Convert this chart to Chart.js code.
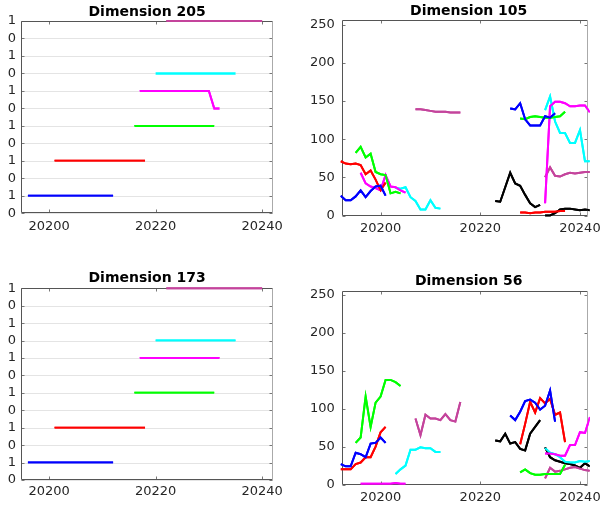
<!DOCTYPE html>
<html>
<head>
<meta charset="utf-8">
<script src="https://cdn.jsdelivr.net/npm/chart.js@4.4.1/dist/chart.umd.min.js"></script>
<style>
  html, body { margin: 0; padding: 0; background: #fff; }
  #page { position: relative; width: 606px; height: 505px; overflow: hidden; }
  .panel { position: absolute; }
  .panel canvas { position: absolute; left: 0; top: 0; }
  .ttl { position: absolute; text-align: center; font: bold 14px 'DejaVu Sans', sans-serif; color: #000; height: 16px; line-height: 16px; white-space: nowrap; }
</style>
</head>
<body>
<div id="page"></div>
<script>
// x ticks shared by all four panels
const xTicks = [20200, 20220, 20240];
const stepTicks = [0, 1, 2, 3, 4, 5, 6, 7, 8, 9, 10, 11];
const valTicks = [0, 50, 100, 150, 200, 250];

// Dimension 205 (stepped panel) [x, y]
const d205Blue    = [[20196, 1], [20212, 1]];
const d205Red     = [[20201, 3], [20218, 3]];
const d205Green   = [[20216, 5], [20231, 5]];
const d205Magenta = [[20217, 7], [20230, 7], [20231, 6], [20232, 6]];
const d205Cyan    = [[20220, 8], [20235, 8]];
const d205Orchid  = [[20222, 11], [20240, 11]];

// Dimension 173
const d173Blue    = [[20196, 1], [20212, 1]];
const d173Red     = [[20201, 3], [20218, 3]];
const d173Green   = [[20216, 5], [20231, 5]];
const d173Magenta = [[20217, 7], [20232, 7]];
const d173Cyan    = [[20220, 8], [20235, 8]];
const d173Orchid  = [[20222, 11], [20240, 11]];

// Dimension 105: first x of each run, then one value per step
const d105Start = { blue1: 20192, red1: 20192, green1: 20195, magenta1: 20196, cyan1: 20203, orchid1: 20207,
                    black1: 20223, blue2: 20226, green2: 20228, red2: 20228, magenta2: 20233, cyan2: 20233, orchid2: 20233, black2: 20233 };
const d105Blue1    = [26, 20, 20, 25, 33, 24, 32, 38, 39, 26];
const d105Red1     = [71, 68, 67, 68, 66, 54, 59, 47, 33, 43];
const d105Green1   = [82, 90, 76, 81, 57, 54, 53, 29, 31, 29];
const d105Magenta1 = [56, 42, 38, 36, 33, 53, 38, 37, 33, 30];
const d105Cyan1    = [36, 35, 37, 24, 19, 8, 8, 20, 10, 9];
const d105Orchid1  = [139, 139, 138, 137, 136, 136, 136, 135, 135, 135];
const d105Black1   = [19, 18, 37, 56, 42, 39, 27, 16, 11, 14];
const d105Blue2    = [140, 139, 147, 126, 118, 118, 118, 130, 128, 134];
const d105Green2   = [127, 126, 129, 130, 129, 128, 128, 129, 130, 136];
const d105Red2     = [4, 4, 3, 4, 4, 5, 5, 5, 6, 6];
const d105Magenta2 = [16, 143, 149, 149, 147, 143, 143, 144, 144, 135];
const d105Cyan2    = [138, 156, 123, 108, 108, 95, 95, 112, 71, 71];
const d105Orchid2  = [50, 63, 52, 51, 54, 56, 55, 56, 57, 57];
const d105Black2   = [0, 0, 3, 8, 9, 9, 8, 7, 8, 7];

// Dimension 56
const d56Start = { blue1: 20192, red1: 20192, green1: 20195, magenta1: 20196, cyan1: 20203, orchid1: 20207,
                   black1: 20223, blue2: 20226, red2: 20228, green2: 20228, magenta2: 20233, cyan2: 20233, orchid2: 20233, black2: 20233 };
const d56Blue1    = [27, 24, 24, 42, 40, 36, 54, 55, 62, 55];
const d56Red1     = [20, 20, 20, 27, 29, 36, 36, 50, 69, 76];
const d56Green1   = [55, 62, 116, 76, 108, 116, 138, 138, 135, 130];
const d56Magenta1 = [1, 1, 1, 1, 1, 1, 1, 2, 1, 1];
const d56Cyan1    = [14, 20, 25, 46, 46, 49, 48, 48, 43, 43];
const d56Orchid1  = [87, 65, 92, 87, 87, 85, 93, 85, 83, 109];
const d56Black1   = [58, 57, 67, 54, 56, 47, 45, 67, 76, 85];
const d56Blue2    = [91, 85, 96, 110, 112, 108, 99, 104, 124, 83];
const d56Red2     = [53, 80, 109, 95, 114, 107, 113, 92, 95, 56];
const d56Green2   = [16, 20, 15, 13, 13, 14, 14, 14, 14, 26];
const d56Magenta2 = [41, 41, 40, 38, 38, 52, 52, 69, 68, 89];
const d56Cyan2    = [48, 42, 40, 36, 30, 29, 29, 31, 30, 31];
const d56Orchid2  = [8, 22, 17, 18, 20, 22, 23, 21, 19, 18];
const d56Black2   = [49, 36, 32, 30, 28, 27, 25, 22, 28, 24];

const COL = { blue: '#0000ff', red: '#ff0000', green: '#00ff00', magenta: '#ff00ff', cyan: '#00ffff', orchid: '#c4449c', black: '#000000' };

Chart.defaults.font.family = "'DejaVu Sans', sans-serif";
Chart.defaults.font.size = 13;
Chart.defaults.color = '#262626';

function pairs(arr) { return arr.map(p => ({ x: p[0], y: p[1] })); }
function run(start, values) { return values.map((y, i) => ({ x: start + i, y })); }
function ds(data, color) {
  return { data, borderColor: color, borderWidth: 2, pointRadius: 0, fill: false, tension: 0, clip: 2 };
}

// grid, axes box with inward tick marks, then the lines again on top
function boxPlugin(stepped) {
  return {
    id: 'axisBox',
    afterDraw(chart) {
      const { ctx, chartArea: a, scales } = chart;
      const seg = (x1, y1, x2, y2) => { ctx.beginPath(); ctx.moveTo(x1, y1); ctx.lineTo(x2, y2); ctx.stroke(); };
      const L = Math.round(a.left) + 0.5, R = Math.round(a.right) - 0.5;
      const T = Math.round(a.top) + 0.5, B = Math.round(a.bottom) - 0.5;
      ctx.save();
      ctx.lineWidth = 1;
      if (stepped) {
        ctx.strokeStyle = '#e4e4e4';
        scales.y.ticks.forEach(t => {
          const py = Math.round(scales.y.getPixelForValue(t.value)) + 0.5;
          seg(L, py, R, py);
        });
      }
      ctx.strokeStyle = '#777';
      scales.x.ticks.forEach(t => {
        const px = Math.round(scales.x.getPixelForValue(t.value)) + 0.5;
        seg(px, B, px, B - 3);
        seg(px, T, px, T + 3);
      });
      scales.y.ticks.forEach(t => {
        const py = Math.round(scales.y.getPixelForValue(t.value)) + 0.5;
        seg(L, py, L + 3, py);
        seg(R, py, R - 3, py);
      });
      ctx.strokeStyle = '#555';
      seg(L, T, L, B);
      seg(L, B, R, B);
      seg(L, T, R, T);
      ctx.strokeStyle = '#aaa';
      seg(R, T, R, B);
      ctx.beginPath();
      ctx.rect(a.left - 1, a.top - 1, a.right - a.left + 2, a.bottom - a.top + 2);
      ctx.clip();
      for (let i = chart.data.datasets.length - 1; i >= 0; i--) {
        chart.getDatasetMeta(i).controller.draw();
      }
      ctx.restore();
    }
  };
}

function makePanel(p) {
  const page = document.getElementById('page');
  const div = document.createElement('div');
  div.className = 'panel';
  div.style.left = p.left + 'px';
  div.style.top = p.top + 'px';
  div.style.width = p.w + 'px';
  div.style.height = p.h + 'px';
  const cv = document.createElement('canvas');
  cv.width = p.w; cv.height = p.h;
  cv.style.width = p.w + 'px'; cv.style.height = p.h + 'px';
  div.appendChild(cv);
  const t = document.createElement('div');
  t.className = 'ttl';
  t.textContent = p.title;
  t.style.left = p.area.left + 'px';
  t.style.width = (p.area.right - p.area.left) + 'px';
  t.style.top = (p.titleY - 8) + 'px';
  div.appendChild(t);
  page.appendChild(div);

  const stepped = p.kind === 'step';
  new Chart(cv.getContext('2d'), {
    type: 'line',
    data: { datasets: p.datasets },
    options: {
      responsive: false,
      animation: false,
      events: [],
      layout: { padding: { top: p.area.top, right: p.w - p.area.right, left: 0, bottom: 0 } },
      plugins: { legend: { display: false }, tooltip: { enabled: false } },
      scales: {
        x: {
          type: 'linear', min: p.xMin, max: p.xMax,
          afterBuildTicks: s => { s.ticks = xTicks.map(v => ({ value: v })); },
          afterFit: s => { s.height = p.h - p.area.bottom; },
          grid: { display: false, drawTicks: false },
          border: { display: false },
          ticks: { padding: p.xPad, maxRotation: 0, autoSkip: false, callback: v => String(v) },
        },
        y: {
          type: 'linear',
          min: 0, max: stepped ? 11 : 256,
          afterBuildTicks: s => { s.ticks = (stepped ? stepTicks : valTicks).map(v => ({ value: v })); },
          afterFit: s => { s.width = p.area.left; },
          grid: { display: false, drawTicks: false },
          border: { display: false },
          ticks: { padding: stepped ? 5 : 7, autoSkip: false, callback: v => stepped ? String(v % 2) : String(v) },
        },
      },
    },
    plugins: [boxPlugin(stepped)],
  });
}

makePanel({
  title: 'Dimension 205', kind: 'step', left: 0, top: 0, w: 303, h: 250, titleY: 10.5, xPad: 6,
  area: { left: 21, top: 21, right: 273.3, bottom: 213.3 }, xMin: 20194.7, xMax: 20242.1,
  datasets: [
    ds(pairs(d205Blue), COL.blue), ds(pairs(d205Red), COL.red), ds(pairs(d205Green), COL.green),
    ds(pairs(d205Magenta), COL.magenta), ds(pairs(d205Cyan), COL.cyan), ds(pairs(d205Orchid), COL.orchid),
  ],
});

makePanel({
  title: 'Dimension 173', kind: 'step', left: 0, top: 250, w: 303, h: 255, titleY: 27, xPad: 4,
  area: { left: 21, top: 38.3, right: 273.3, bottom: 230 }, xMin: 20194.7, xMax: 20242.1,
  datasets: [
    ds(pairs(d173Blue), COL.blue), ds(pairs(d173Red), COL.red), ds(pairs(d173Green), COL.green),
    ds(pairs(d173Magenta), COL.magenta), ds(pairs(d173Cyan), COL.cyan), ds(pairs(d173Orchid), COL.orchid),
  ],
});

makePanel({
  title: 'Dimension 105', kind: 'value', left: 303, top: 0, w: 303, h: 250, titleY: 10, xPad: 5,
  area: { left: 38.7, top: 20, right: 292.7, bottom: 215.5 }, xMin: 20192.2, xMax: 20241.6,
  datasets: [
    ds(run(d105Start.blue1, d105Blue1), COL.blue), ds(run(d105Start.red1, d105Red1), COL.red),
    ds(run(d105Start.green1, d105Green1), COL.green), ds(run(d105Start.magenta1, d105Magenta1), COL.magenta),
    ds(run(d105Start.cyan1, d105Cyan1), COL.cyan), ds(run(d105Start.orchid1, d105Orchid1), COL.orchid),
    ds(run(d105Start.black1, d105Black1), COL.black), ds(run(d105Start.blue2, d105Blue2), COL.blue),
    ds(run(d105Start.green2, d105Green2), COL.green), ds(run(d105Start.red2, d105Red2), COL.red),
    ds(run(d105Start.magenta2, d105Magenta2), COL.magenta), ds(run(d105Start.cyan2, d105Cyan2), COL.cyan),
    ds(run(d105Start.orchid2, d105Orchid2), COL.orchid), ds(run(d105Start.black2, d105Black2), COL.black),
  ],
});

makePanel({
  title: 'Dimension 56', kind: 'value', left: 303, top: 250, w: 303, h: 255, titleY: 30.3, xPad: 5,
  area: { left: 38.7, top: 40.5, right: 292.7, bottom: 234.5 }, xMin: 20192.2, xMax: 20241.6,
  datasets: [
    ds(run(d56Start.blue1, d56Blue1), COL.blue), ds(run(d56Start.red1, d56Red1), COL.red),
    ds(run(d56Start.green1, d56Green1), COL.green), ds(run(d56Start.magenta1, d56Magenta1), COL.magenta),
    ds(run(d56Start.cyan1, d56Cyan1), COL.cyan), ds(run(d56Start.orchid1, d56Orchid1), COL.orchid),
    ds(run(d56Start.black1, d56Black1), COL.black), ds(run(d56Start.blue2, d56Blue2), COL.blue),
    ds(run(d56Start.red2, d56Red2), COL.red), ds(run(d56Start.green2, d56Green2), COL.green),
    ds(run(d56Start.magenta2, d56Magenta2), COL.magenta), ds(run(d56Start.cyan2, d56Cyan2), COL.cyan),
    ds(run(d56Start.orchid2, d56Orchid2), COL.orchid), ds(run(d56Start.black2, d56Black2), COL.black),
  ],
});
</script>
</body>
</html>
